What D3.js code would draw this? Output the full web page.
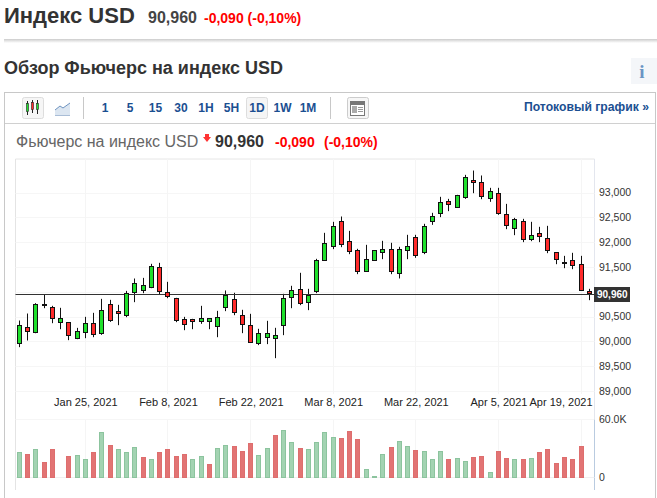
<!DOCTYPE html>
<html>
<head>
<meta charset="utf-8">
<script src="https://cdn.jsdelivr.net/npm/d3@7"></script>
<style>
  html, body { margin: 0; padding: 0; background: #fff; overflow: hidden; }
  svg { display: block; font-family: "Liberation Sans", Arial, sans-serif; }
</style>
</head>
<body>
<div id="chart"></div>
<script>
'use strict';

// candles, top to bottom of the wick / body
const highs = [90431,90572,90781,90949,90727,90687,90384,90283,90505,90586,90868,90848,90747,91029,91278,91291,91574,91594,91211,90888,90505,90465,90727,90465,90626,
  91037,90990,90647,90566,90264,90425,90284,90969,91131,91393,91070,91675,92199,92421,92528,92239,91877,91957,91836,92038,91998,91917,92159,92159,92381,
  92602,92925,92884,92965,93368,93455,93355,93106,93106,92783,92501,92481,92421,92320,92340,91796,91735,91796,91735,91070];
const lows = [89894,90028,90175,90680,90377,90256,90035,90055,90075,90095,90142,90404,90337,90498,90801,90982,91083,90955,90881,90398,90236,90256,90364,90256,90095,
  90620,90539,90176,89982,89935,89955,89672,90136,90680,90741,90640,90983,91635,91870,91910,91769,91366,91413,91635,91668,91366,91279,91668,91695,91769,
  92360,92515,92636,92703,92884,92998,92877,92824,92562,92273,92152,92011,92031,92011,91789,91567,91486,91466,91030,90841];
const opens = [89954,90283,90183,90760,90687,90384,90384,90055,90183,90364,90156,90747,90606,90519,90989,91029,91090,91493,90989,90868,90445,90445,90404,90404,90304,
  90687,90848,90526,90324,89961,90082,90062,90324,90889,91050,90788,91010,91635,91924,92421,92018,91836,91413,91635,91796,91856,91373,91836,92098,91796,
  92421,92582,92824,92703,92904,93247,93207,92884,92985,92562,92279,92421,92058,92179,92078,91796,91607,91634,91554,91009];
const closes = [90324,90196,90747,90760,90458,90465,90115,90203,90364,90136,90626,90424,90566,90969,91170,91130,91513,91009,90908,90424,90344,90404,90465,90465,90485,
  90929,90586,90344,89982,90163,90163,90123,90869,91030,90768,90929,91635,91977,92320,91957,91816,91413,91655,91836,91856,91413,91856,91917,91735,92320,
  92521,92804,92763,92945,93308,93207,92925,93025,92582,92340,92461,92058,92138,92118,91836,91654,91607,91533,91030,90960];

// volume in thousands, 0 where the picture has no bar
const volumes = [25.7,23.7,28.8,15.4,28.8,0,21.6,22.6,18.5,25.7,46.3,32.9,28.8,25.7,30.9,20.6,18.5,25.7,28.8,21.6,23.7,18.5,21.6,13.4,29.8,
  32.9,31.9,26.7,35,22.6,29.8,43.2,48.3,36,29.8,28.8,36,46.3,41.1,40.1,47.3,39.1,8.2,1,23.7,30.9,37,31.9,27.8,26.7,
  18.5,26.7,18.5,19.5,16.5,20.6,21.6,5.1,26.7,19.5,18.5,18.5,19.5,25.7,28.8,14.4,20.6,18.5,31.9,0];
const volumeUp = [1,0,1,0,0,0,0,1,1,0,1,0,1,1,1,0,1,0,0,0,0,1,1,0,1,
  1,0,0,0,1,1,0,1,1,0,1,1,1,1,0,0,0,1,1,1,0,1,1,0,1,
  1,1,0,1,1,0,0,1,0,0,1,0,1,0,0,0,0,0,0,0];

const priceTicks = [93000,92500,92000,91500,90500,90000,89500,89000];
const volumeTicks = [60,0];
const dateTickIndex = [8,18,28,38,48,58,68];
const dateTickLabels = ['Jan 25, 2021','Feb 8, 2021','Feb 22, 2021','Mar 8, 2021','Mar 22, 2021','Apr 5, 2021','Apr 19, 2021'];
const intervals = ['1','5','15','30','1H','5H','1D','1W','1M'];
const intervalX = [105,130,155.5,181,206,231.5,257,282.5,308];
const lastPrice = 90960;

const GREEN = '#1fe02c', RED = '#ff2b2b', BLUE = '#1b4f91';
const width = 657, height = 498;
const svg = d3.select('#chart').append('svg').attr('width', width).attr('height', height);

// snap to the middle of a pixel so 1px lines stay crisp
const crisp = (v) => Math.floor(v) + 0.5;

function addText(x, y, str, size, color, weight, anchor) {
  return svg.append('text')
    .attr('x', x).attr('y', y)
    .attr('text-anchor', anchor || 'start')
    .style('font-size', size + 'px')
    .style('font-weight', weight || 'normal')
    .attr('fill', color)
    .text(str);
}

function addLine(x1, y1, x2, y2, color) {
  svg.append('line')
    .attr('x1', x1).attr('y1', y1).attr('x2', x2).attr('y2', y2)
    .attr('stroke', color).attr('stroke-width', 1);
}

function drawHeader() {
  addText(4, 23, 'Индекс USD', 22, '#333', 'bold');
  addText(148, 23, '90,960', 16, '#444', 'bold');
  addText(204, 23, '-0,090 (-0,10%)', 14, '#f00', 'bold');

  // soft rule under the header
  let shadow = svg.append('defs').append('linearGradient')
    .attr('id', 'rule').attr('x1', 0).attr('x2', 0).attr('y1', 0).attr('y2', 1);
  shadow.append('stop').attr('offset', 0).attr('stop-color', '#ccc');
  shadow.append('stop').attr('offset', 1).attr('stop-color', '#fff');
  svg.append('rect').attr('x', 4).attr('y', 39).attr('width', 653).attr('height', 4).attr('fill', 'url(#rule)');

  addText(4, 74, 'Обзор Фьючерс на индекс USD', 18, '#333', 'bold');

  svg.append('rect').attr('x', 631).attr('y', 58).attr('width', 26).attr('height', 26).attr('fill', '#f4f6f9');
  addText(642, 78, 'i', 19, '#6a94c4', 'bold', 'middle').style('font-family', '"Liberation Serif", serif');
}

function drawToolbar() {
  // outer box
  svg.append('rect').attr('x', 4.5).attr('y', 92.5).attr('width', 651).attr('height', 420)
    .attr('fill', 'none').attr('stroke', '#c8c8c8');
  addLine(5, 123.5, 655, 123.5, '#d0d0d0');

  // candle icon button
  svg.append('rect').attr('x', 22.5).attr('y', 97.5).attr('width', 21).attr('height', 21).attr('rx', 2)
    .attr('fill', '#f6f6f6').attr('stroke', '#ddd');
  [[27, GREEN, 104, 112, 101, 115], [32, RED, 103, 110, 100, 113], [37, GREEN, 104, 110, 100, 114]].forEach((c) => {
    addLine(c[0] + 0.5, c[4], c[0] + 0.5, c[5], '#222');
    svg.append('rect').attr('x', c[0] - 0.5).attr('y', c[2] - 0.5).attr('width', 2).attr('height', c[3] - c[2])
      .attr('fill', c[1]).attr('stroke', '#222').attr('stroke-width', 0.6);
  });

  // line icon
  svg.append('path').attr('d', 'M55 115 V110 L60 106 L63 108 L70 103 V115 Z').attr('fill', '#dce6f1');
  svg.append('path').attr('d', 'M55 110 L60 106 L63 108 L70 103').attr('fill', 'none').attr('stroke', '#6f94c0');
  addLine(55, 115.5, 70, 115.5, '#a9bdd6');

  addLine(83.5, 97, 83.5, 119, '#c8c8c8');
  addLine(330.5, 97, 330.5, 119, '#c8c8c8');

  svg.append('rect').attr('x', 246.5).attr('y', 97.5).attr('width', 21).attr('height', 21).attr('rx', 2)
    .attr('fill', '#f5f5f5').attr('stroke', '#ddd');
  intervals.forEach((d, i) => addText(intervalX[i], 112, d, 12, BLUE, 'bold', 'middle').style('font-weight', 600));

  // news icon button
  svg.append('rect').attr('x', 347.5).attr('y', 97.5).attr('width', 21).attr('height', 21).attr('rx', 2)
    .attr('fill', '#f6f6f6').attr('stroke', '#ccc');
  svg.append('rect').attr('x', 350.5).attr('y', 101.5).attr('width', 14).attr('height', 14)
    .attr('fill', '#fff').attr('stroke', '#777');
  svg.append('rect').attr('x', 351).attr('y', 102).attr('width', 13).attr('height', 3).attr('fill', '#777');
  svg.append('rect').attr('x', 352).attr('y', 106).attr('width', 5).attr('height', 7).attr('fill', '#aaa');
  [107, 109, 111].forEach((y) => addLine(358, y + 0.5, 363, y + 0.5, '#999'));

  addText(649, 111, 'Потоковый график »', 12.2, BLUE, 'bold', 'end');

  addText(16, 147, 'Фьючерс на индекс USD', 16, '#666');
  svg.append('path').attr('d', 'M205 137 h4 v-3 h-4 z M203 137 h8 l-4 5 z').attr('fill', '#f33');
  addText(215, 147, '90,960', 16, '#333', 'bold');
  addText(275, 147, '-0,090', 14, '#f00', 'bold');
  addText(324, 147, '(-0,10%)', 14, '#f00', 'bold');
}

function drawChart() {
  let index = d3.range(closes.length);
  let xScale = d3.scalePoint().domain(index).range([19.3, 589.3]);
  let yScale = d3.scaleLinear().domain([89000, 93000]).range([391.5, 193.1]);
  let volScale = d3.scaleLinear().domain([0, 60]).range([477.3, 419]);

  const plotLeft = 15.5, plotRight = 594.5, plotTop = 159, plotBottom = 394;

  // frame
  addLine(15.5, plotTop, plotRight, plotTop, '#e6e6e6');
  addLine(plotLeft, plotTop, plotLeft, 490, '#e4e4e4');
  addLine(plotRight, plotTop, plotRight, 419, '#e3e6ee');
  addLine(plotRight, 419, plotRight, 490, '#b9cbe0');

  // gridlines
  priceTicks.concat([91000]).forEach((d) => addLine(plotLeft, crisp(yScale(d)), plotRight, crisp(yScale(d)), '#f6f6f6'));
  dateTickIndex.forEach((d) => {
    addLine(crisp(xScale(d)), plotTop, crisp(xScale(d)), plotBottom, '#f5f5f5');
    addLine(crisp(xScale(d)), 419, crisp(xScale(d)), 477, '#f5f5f5');
  });
  addLine(plotLeft, 419.5, plotRight, 419.5, '#f6f6f6');
  addLine(plotLeft, 477.5, plotRight, 477.5, '#f0f0f0');

  // price axis
  let priceAxis = d3.axisRight(yScale).tickValues(priceTicks).tickSize(0).tickPadding(0)
    .tickFormat(d3.format(','));
  let gPrice = svg.append('g').attr('transform', 'translate(599,-0.5)').call(priceAxis);
  gPrice.select('.domain').remove();
  gPrice.selectAll('text').style('font-size', '10.5px').style('font-family', 'inherit').attr('fill', '#333');

  // date axis
  let dateAxis = d3.axisBottom(xScale).tickValues(dateTickIndex).tickSize(0).tickPadding(0)
    .tickFormat((d, i) => dateTickLabels[i]);
  let gDate = svg.append('g').attr('transform', 'translate(0,398)').call(dateAxis);
  gDate.select('.domain').remove();
  gDate.selectAll('text').style('font-size', '11px').style('font-family', 'inherit').attr('fill', '#222');
  // the last label is pushed back inside the plot
  gDate.selectAll('.tick').filter((d) => d === 68).select('text')
    .attr('text-anchor', 'end').attr('x', 592 - xScale(68));

  // volume axis
  let volAxis = d3.axisRight(volScale).tickValues(volumeTicks).tickSize(0).tickPadding(0)
    .tickFormat((d) => d === 0 ? '0' : d.toFixed(1) + 'K');
  let gVol = svg.append('g').attr('transform', 'translate(599,0)').call(volAxis);
  gVol.select('.domain').remove();
  gVol.selectAll('text').style('font-size', '10.5px').style('font-family', 'inherit').attr('fill', '#333');

  // volume bars
  svg.append('g').selectAll('rect')
    .data(index.filter((i) => volumes[i] > 0))
    .enter()
    .append('rect')
      .attr('x', (i) => crisp(xScale(i)) - 2)
      .attr('y', (i) => Math.round(volScale(volumes[i])) + 0.5)
      .attr('width', 4)
      .attr('height', (i) => 477 - Math.round(volScale(volumes[i])))
      .attr('fill', (i) => volumeUp[i] ? '#a3d3b2' : '#e27474')
      .attr('stroke', (i) => volumeUp[i] ? '#8cc49e' : '#de6e6e')
      .attr('stroke-width', 1);

  // wicks
  svg.append('g').selectAll('line')
    .data(index)
    .enter()
    .append('line')
      .attr('x1', (i) => crisp(xScale(i)))
      .attr('x2', (i) => crisp(xScale(i)))
      .attr('y1', (i) => yScale(highs[i]))
      .attr('y2', (i) => yScale(lows[i]))
      .attr('stroke', '#111')
      .attr('stroke-width', 1);

  // last price line goes under the bodies
  addLine(plotLeft, crisp(yScale(lastPrice)), plotRight, crisp(yScale(lastPrice)), '#333');

  // bodies
  svg.append('g').selectAll('rect')
    .data(index)
    .enter()
    .append('rect')
      .attr('x', (i) => crisp(xScale(i)) - 2)
      .attr('y', (i) => crisp(yScale(Math.max(opens[i], closes[i]))))
      .attr('width', 4)
      .attr('height', (i) => Math.max(Math.round(Math.abs(yScale(opens[i]) - yScale(closes[i]))), 1))
      .attr('fill', (i) => closes[i] >= opens[i] ? GREEN : RED)
      .attr('stroke', '#111')
      .attr('stroke-width', 1);

  // last price tag
  svg.append('rect').attr('x', 594).attr('y', 287).attr('width', 36).attr('height', 15).attr('fill', '#333');
  addText(597, 298, d3.format(',')(lastPrice), 10, '#fff', 'bold');
}

drawHeader();
drawToolbar();
drawChart();
</script>
</body>
</html>
